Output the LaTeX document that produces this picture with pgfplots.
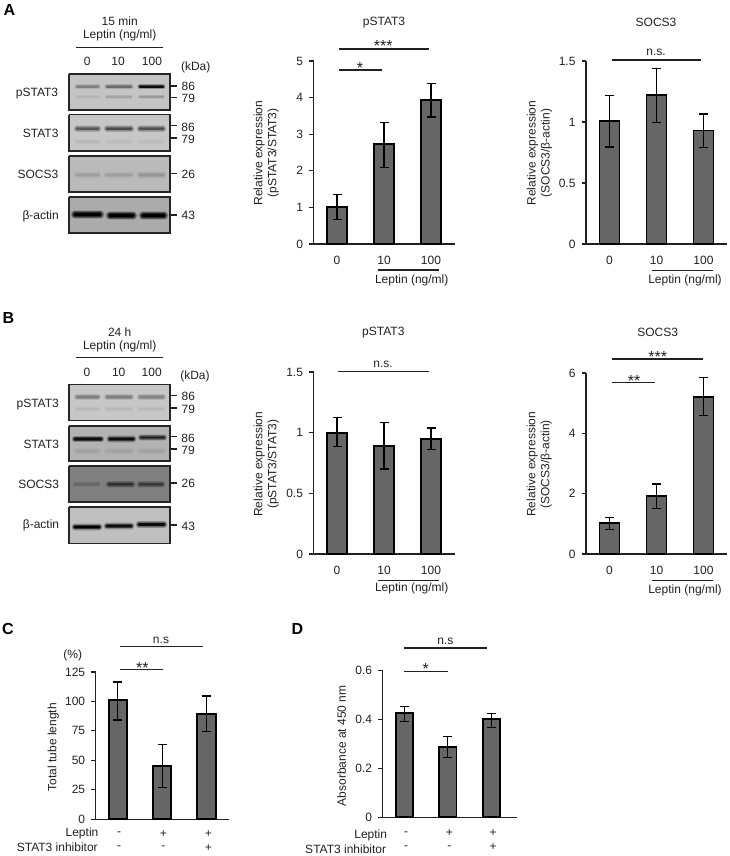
\documentclass[border=0pt]{standalone}
\usepackage{fontspec}
\setmainfont{Liberation Sans}
\usepackage{pgfplots}
\pgfplotsset{compat=1.18}

\newcommand{\fz}{\fontsize{12}{14}\selectfont}
\definecolor{ink}{gray}{0.13}
\definecolor{barfill}{gray}{0.40}

% text at page pixel position
\newcommand{\T}[3]{\node[inner sep=0pt,text=ink,font=\fz,align=center] at (axis cs:#1,#2) {#3};}
\newcommand{\Rot}[3]{\node[inner sep=0pt,text=ink,font=\fz,align=center,rotate=90] at (axis cs:#1,#2) {#3};}
% asterisks, larger and pulled down to their visual centre
\newcommand{\St}[3]{\node[inner sep=0pt,text=ink,font=\fontsize{16}{18}\selectfont,yshift=-3.6pt] at (axis cs:#1,#2) {#3};}
% x1 x2 y
\newcommand{\HL}[3]{\addplot[forget plot,ink,line width=1.15pt] coordinates {(#1,#3) (#2,#3)};}
% blot frame: x1 x2 y1 y2 darkness
\newcommand{\blot}[5]{\addplot[forget plot,fill=black!#5,draw=none] coordinates {(#1,#3) (#2,#3) (#2,#4) (#1,#4) (#1,#3)};}
\newcommand{\frm}[4]{\addplot[forget plot,draw=black!85,line width=1.6pt] coordinates {(#1,#3) (#2,#3) (#2,#4) (#1,#4) (#1,#3)};}
% band: x1 x2 y thickness core background (darkness in percent)
\newcommand{\band}[6]{%
  \addplot[forget plot,line cap=round,color=black!\the\numexpr(#5*12+#6*88)/100\relax,line width=#4*2.3pt] coordinates {(#1,#3) (#2,#3)};
  \addplot[forget plot,line cap=round,color=black!\the\numexpr(#5*30+#6*70)/100\relax,line width=#4*1.9pt] coordinates {(#1,#3) (#2,#3)};
  \addplot[forget plot,line cap=round,color=black!\the\numexpr(#5*50+#6*50)/100\relax,line width=#4*1.5pt] coordinates {(#1,#3) (#2,#3)};
  \addplot[forget plot,line cap=round,color=black!\the\numexpr(#5*75+#6*25)/100\relax,line width=#4*1.1pt] coordinates {(#1,#3) (#2,#3)};
  \addplot[forget plot,line cap=round,color=black!#5,line width=#4*0.7pt] coordinates {(#1,#3) (#2,#3)};
}
% three lanes at one height: y thick core1 core2 core3 bg
\newcommand{\lanes}[6]{%
  \band{77}{98}{#1}{#2}{#3}{#6}
  \band{107}{131}{#1}{#2}{#4}{#6}
  \band{140}{163}{#1}{#2}{#5}{#6}
}

\pgfplotsset{
  panel/.style={
    scale only axis, clip=false,
    axis y line=left, axis x line=bottom,
    axis line style={-,ink,line width=1.1pt},
    xmin=0.5, xmax=3.5, ymin=0,
    xtick={1,2,3},
    tick align=outside, major tick length=4.5pt,
    ytick style={ink,line width=1.1pt},
    xtick style={draw=none},
    tick label style={font=\fz,text=ink},
    /pgf/number format/assume math mode=true,
    yticklabel style={/pgf/number format/fixed,xshift=-2.5pt},
    xticklabel style={yshift=-4.5pt},
  },
  barplot/.style={
    ybar, forget plot, fill=barfill, draw=black, line width=1.9pt,
    error bars/.cd, y dir=both, y explicit,
    error bar style={black,line width=1.2pt},
    error mark options={rotate=90,black,mark size=4.5pt,line width=1.2pt},
  },
}

\begin{document}
\begin{tikzpicture}
\useasboundingbox (0,0) rectangle (730pt,856pt);

% page layer: blots, brackets and texts, in pixels of the reference
\begin{axis}[
  at={(0pt,0pt)}, anchor=south west, scale only axis,
  width=730pt, height=856pt, hide axis, clip=false,
  xmin=0, xmax=730, ymin=0, ymax=856, y dir=reverse,
]
% --- blots A
\blot{69}{170}{74}{110}{23}
\lanes{86.7}{2.4}{50}{58}{95}{23}
\lanes{97}{2}{29}{36}{40}{23}
\frm{69}{170}{74}{110}
\blot{69}{170}{114.7}{151}{22}
\lanes{128.7}{3}{65}{70}{68}{22}
\lanes{141.7}{2.5}{28}{26}{26}{22}
\frm{69}{170}{114.7}{151}
\blot{69}{170}{155.7}{192}{27}
\lanes{175}{3.2}{38}{38}{42}{27}
\frm{69}{170}{155.7}{192}
\blot{69}{170}{196.7}{232.7}{33}
\band{75}{100}{214.5}{4.2}{100}{33}
\band{110}{133}{215.5}{4.2}{100}{33}
\band{143}{164}{215.5}{4.2}{100}{33}
\frm{69}{170}{196.7}{232.7}
% --- blots B
\blot{69}{170}{384.3}{420.3}{22}
\lanes{397}{2.8}{50}{50}{48}{22}
\lanes{409}{2.5}{28}{28}{28}{22}
\frm{69}{170}{384.3}{420.3}
\blot{69}{170}{425.7}{460.7}{30}
\band{75}{101}{439}{3}{95}{30}
\band{110}{133}{439}{3.2}{95}{30}
\band{141}{164}{437.5}{2.8}{90}{30}
\lanes{451}{2.8}{36}{36}{36}{30}
\frm{69}{170}{425.7}{460.7}
\blot{69}{170}{466}{502}{50}
\band{75}{98}{484.3}{2.6}{60}{50}
\band{109}{132}{484.3}{3.2}{82}{50}
\band{140}{162}{484.3}{3.2}{78}{50}
\frm{69}{170}{466}{502}
\blot{69}{170}{507}{543.3}{25}
\band{75}{99}{527}{3.2}{100}{25}
\band{107}{131}{526}{3.2}{95}{25}
\band{139}{164}{524.5}{3.2}{95}{25}
\frm{69}{170}{507}{543.3}

% --- marker ticks
\HL{170}{177}{86}  \HL{170}{177}{97.7}
\HL{170}{177}{125.7} \HL{170}{177}{138}
\HL{170}{177}{173.7} \HL{170}{177}{215}
\HL{170}{177}{395.7} \HL{170}{177}{408}
\HL{170}{177}{436.7} \HL{170}{177}{449}
\HL{170}{177}{483} \HL{170}{177}{525}

% --- panel A text
\node[inner sep=0pt,font=\fontsize{16}{18}\selectfont\bfseries] at (axis cs:9.5,10) {A};
\T{119.7}{21.7}{15 min}
\T{119.7}{35.7}{Leptin (ng/ml)}
\HL{76}{162.7}{47.3}
\T{87.3}{61.7}{0} \T{118}{61.7}{10} \T{152}{61.7}{100}
\T{195.7}{67}{(kDa)}
\T{37}{93.3}{pSTAT3} \T{40.7}{133.3}{STAT3} \T{38}{174.7}{SOCS3} \T{40.7}{216}{β-actin}
\T{188.3}{86.7}{86} \T{188.3}{98.7}{79}
\T{188}{127}{86} \T{188}{139.3}{79}
\T{188.3}{174}{26} \T{188.3}{215}{43}

\T{384}{22.7}{pSTAT3}
\HL{338.7}{429}{49} \St{383.3}{42.7}{***}
\HL{339}{381.7}{70} \St{360}{64.7}{*}
\Rot{266.3}{153}{Relative expression\\(pSTAT3/STAT3)}
\HL{378}{439}{270} \T{411.7}{280.7}{Leptin (ng/ml)}

\T{656}{22.7}{SOCS3}
\HL{611.7}{701}{60} \T{656}{52.7}{n.s.}
\Rot{539.5}{153}{Relative expression\\(SOCS3/β-actin)}
\HL{652.3}{712.7}{270.7} \T{685}{280}{Leptin (ng/ml)}

% --- panel B text
\node[inner sep=0pt,font=\fontsize{16}{18}\selectfont\bfseries] at (axis cs:8.5,318) {B};
\T{119.7}{332.3}{24 h}
\T{119.7}{346.3}{Leptin (ng/ml)}
\HL{76}{162.7}{357.7}
\T{87}{372.7}{0} \T{118.7}{372.7}{10} \T{151.7}{372.7}{100}
\T{195}{376.7}{(kDa)}
\T{37.7}{404.3}{pSTAT3} \T{41.3}{444}{STAT3} \T{38.7}{484.7}{SOCS3} \T{41}{525}{β-actin}
\T{188.3}{396.7}{86} \T{188.3}{409}{79}
\T{188}{438}{86} \T{188}{450.3}{79}
\T{188.3}{483}{26} \T{188.3}{526}{43}

\T{383.3}{332.7}{pSTAT3}
\HL{337.7}{429.3}{371.7} \T{383}{364.3}{n.s.}
\Rot{266.3}{464.3}{Relative expression\\(pSTAT3/STAT3)}
\HL{378}{439}{580.7} \T{411.7}{588.3}{Leptin (ng/ml)}

\T{657.7}{332.7}{SOCS3}
\HL{612.3}{702.7}{359} \St{657.7}{353.3}{***}
\HL{612.3}{655.3}{382.3} \St{634}{377.3}{**}
\Rot{539.2}{464.3}{Relative expression\\(SOCS3/β-actin)}
\HL{651.7}{712.7}{580.7} \T{685}{590}{Leptin (ng/ml)}

% --- panel C text
\node[inner sep=0pt,font=\fontsize{16}{18}\selectfont\bfseries] at (axis cs:8,629.3) {C};
\HL{120.3}{202.7}{646.3} \T{161}{640.7}{n.s}
\HL{120.3}{163.3}{669.7} \St{142.3}{664.3}{**}
\T{72.7}{655}{(\%)}
\Rot{53.3}{747.3}{Total tube length}
\T{82}{833.3}{Leptin} \T{57.3}{847.3}{STAT3 inhibitor}
\T{119}{833.7}{-} \T{163.3}{833.7}{+} \T{208.3}{833.7}{+}
\T{119}{848}{-} \T{163.3}{848}{-} \T{208.3}{848}{+}

% --- panel D text
\node[inner sep=0pt,font=\fontsize{16}{18}\selectfont\bfseries] at (axis cs:297.3,629.3) {D};
\HL{404.3}{487}{648} \T{445.3}{641.7}{n.s}
\HL{404.3}{447.7}{671.3} \St{425.7}{665.7}{*}
\Rot{341.7}{745.7}{Absorbance at 450 nm}
\T{370.7}{835}{Leptin} \T{345.7}{849}{STAT3 inhibitor}
\T{406}{833.3}{-} \T{449.3}{833.3}{+} \T{493}{833.3}{+}
\T{406}{847.3}{-} \T{449.3}{847.3}{-} \T{493}{847.3}{+}
\end{axis}

% A pSTAT3
\begin{axis}[panel, at={(313.5pt,612pt)}, anchor=origin, width=141pt, height=183pt,
  ymax=5, ytick={0,1,2,3,4,5}, xticklabels={0,10,100}]
\addplot[bar width=20pt, barplot] coordinates {
  (1,1.02) += (0,0.33) -= (0,0.34)
  (2,2.73) += (0,0.58) -= (0,0.63)
  (3,3.93) += (0,0.45) -= (0,0.46)};
\end{axis}

% A SOCS3
\begin{axis}[panel, at={(586pt,612pt)}, anchor=origin, width=141pt, height=183pt,
  ymax=1.5, ytick={0,0.5,1,1.5}, xticklabels={0,10,100}]
\addplot[bar width=20pt, barplot] coordinates {
  (1,1.005) += (0,0.21) -= (0,0.21)
  (2,1.22) += (0,0.22) -= (0,0.225)
  (3,0.93) += (0,0.135) -= (0,0.14)};
\end{axis}

% B pSTAT3
\begin{axis}[panel, at={(313.5pt,302pt)}, anchor=origin, width=141pt, height=182pt,
  ymax=1.5, ytick={0,0.5,1,1.5}, xticklabels={0,10,100}]
\addplot[bar width=20pt, barplot] coordinates {
  (1,1.0) += (0,0.126) -= (0,0.114)
  (2,0.89) += (0,0.197) -= (0,0.19)
  (3,0.95) += (0,0.088) -= (0,0.09)};
\end{axis}

% B SOCS3
\begin{axis}[panel, at={(586pt,302pt)}, anchor=origin, width=141pt, height=181pt,
  ymax=6, ytick={0,2,4,6}, xticklabels={0,10,100}]
\addplot[bar width=20pt, barplot] coordinates {
  (1,1.03) += (0,0.19) -= (0,0.23)
  (2,1.92) += (0,0.4) -= (0,0.42)
  (3,5.2) += (0,0.65) -= (0,0.61)};
\end{axis}

% C
\begin{axis}[panel, at={(95.7pt,36.7pt)}, anchor=origin, width=133pt, height=147.3pt,
  ymax=125, ytick={0,25,50,75,100,125}, xticklabels={}]
\addplot[bar width=18.3pt, barplot] coordinates {
  (1,101) += (0,15.5) -= (0,16.7)
  (2,45.5) += (0,17.8) -= (0,18.6)
  (3,89.4) += (0,15.2) -= (0,14.7)};
\end{axis}

% D
\begin{axis}[panel, at={(382.7pt,38.7pt)}, anchor=origin, width=134.6pt, height=146.6pt,
  xmax=3.6, ymax=0.6, ytick={0,0.2,0.4,0.6}, yticklabels={0,0.2,0.4,0.6}, xticklabels={}]
\addplot[bar width=17.3pt, barplot] coordinates {
  (1,0.426) += (0,0.026) -= (0,0.033)
  (2,0.288) += (0,0.044) -= (0,0.043)
  (3,0.402) += (0,0.024) -= (0,0.035)};
\end{axis}
\end{tikzpicture}
\end{document}
